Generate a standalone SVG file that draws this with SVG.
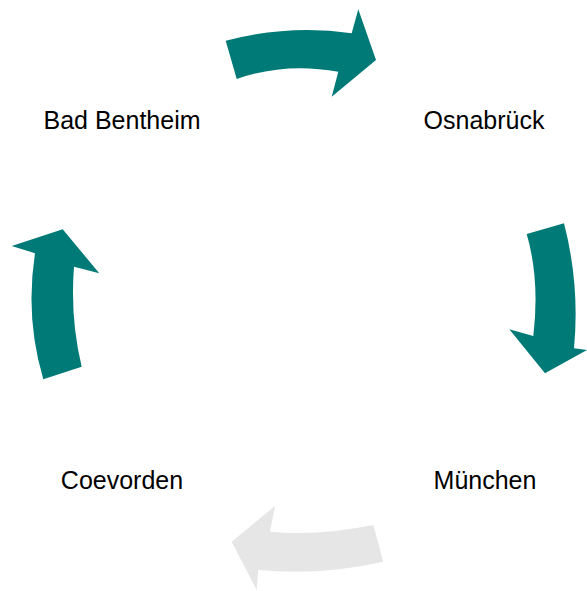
<svg xmlns="http://www.w3.org/2000/svg" width="587" height="591" viewBox="0 0 587 591">
<style>
.t{font-family:"Liberation Sans",Arial,sans-serif;font-size:25px;fill:#000;text-anchor:middle}
.a{fill:#007A77}
.g{fill:#E6E6E6}
</style>
<rect width="587" height="591" fill="#fff"/>
<g id="connectors">
<path class="a" d="M225.7,40.7 Q290,24 351.7,33.3 L358.3,9.3 L376,60 L331.7,96.7 L338.3,71.7 Q285,62 236.7,79 Z"/>
<path class="a" d="M526.7,234 L564,223.3 Q580,285 574,348.3 L587,350 L545,373.3 L509.3,329.3 L533.3,336 Q540,280 526.7,234 Z"/>
<path class="g" d="M373.3,525 L383.3,561.7 Q320,576 258.3,570 L256.7,590 L231.7,541.7 L275,506 L270,531.7 Q320,536 373.3,525 Z"/>
<path class="a" d="M43.3,379.3 L81.7,366.7 Q70,318 74,266.7 L99.3,273.3 L62.7,229.3 L11.7,246 L35,253.3 Q25,318 43.3,379.3 Z"/>
</g>
<g id="bad-bentheim"><text class="t" x="122" y="129">Bad Bentheim</text></g>
<g id="osnabrueck"><text class="t" x="484" y="129">Osnabrück</text></g>
<g id="muenchen"><text class="t" x="485" y="489">München</text></g>
<g id="coevorden"><text class="t" x="122" y="489">Coevorden</text></g>
</svg>
